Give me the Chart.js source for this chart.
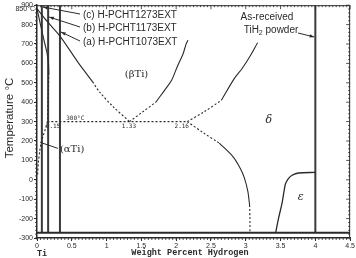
<!DOCTYPE html>
<html>
<head>
<meta charset="utf-8">
<script src="https://cdn.jsdelivr.net/npm/chart.js@4.4.1/dist/chart.umd.min.js"></script>
<style>
html, body { margin: 0; padding: 0; background: #fff; }
</style>
</head>
<body>
<canvas id="c" width="356" height="258"></canvas>
<script>
// axis ticks
const xTicks = [0, 0.5, 1, 1.5, 2, 2.5, 3, 3.5, 4, 4.5];
const xTickLabels = ['0', '0.5', '1', '1.5', '2', '2.5', '3', '3.5', '4', '4.5'];
const yTicks = [900, 800, 700, 600, 500, 400, 300, 200, 100, 0, -100, -200, -300];

// phase boundaries (wt% H, deg C)
const alphaBetaSolid = [[0, 882], [0.05, 800], [0.1, 720], [0.143, 655], [0.165, 600], [0.17, 550]];
const alphaBetaDash = [[0.17, 550], [0.165, 480], [0.158, 400], [0.15, 300]];
const alphaSolvus = [[0.15, 300], [0.12, 262], [0.09, 228], [0.06, 192], [0.04, 150], [0.02, 90], [0.008, 20]];
const betaTransusSolid = [[0, 882], [0.15, 815], [0.33, 741], [0.6, 600], [0.8, 505]];
const betaTransusDash = [[0.8, 505], [0.9, 452], [1.1, 375], [1.33, 300]];
const betaDeltaDash = [[1.33, 300], [1.5, 345], [1.71, 401]];
const betaDeltaSolid = [[1.71, 401], [1.83, 460], [1.93, 510], [2.02, 587], [2.1, 650], [2.14, 697], [2.17, 720]];
const deltaUpperDash = [[2.16, 300], [2.4, 350], [2.65, 410]];
const deltaUpperSolid = [[2.65, 410], [2.83, 519], [2.95, 575], [3.05, 630], [3.17, 706]];
const deltaLowerDash = [[2.16, 300], [2.4, 240], [2.62, 189]];
const deltaLowerSolid = [[2.62, 189], [2.81, 122], [2.92, 60], [2.98, 10], [3.03, -60], [3.055, -130]];
const deltaLowerDash2 = [[3.055, -130], [3.06, -200], [3.06, -273]];
const epsilonBoundary = [[3.43, -273], [3.47, -200], [3.52, -123], [3.55, -60], [3.57, -22], [3.61, 5], [3.66, 22], [3.76, 35], [4.0, 38]];
const eutectoid = [[0.15, 300], [2.16, 300]];
const absZero = [[0, -273], [4.5, -273]];

// sample compositions: (c), (b), (a) and as-received powder
const sampleNames = ['(c) H-PCHT1273EXT', '(b) H-PCHT1173EXT', '(a) H-PCHT1073EXT'];
const sampleX = [0.07, 0.16, 0.33];
const powderX = 4.0;

const ink = '#2a2a2a';

function pts(arr) {
    return arr.map(p => ({ x: p[0], y: p[1] }));
}

function line(arr, dashed, width) {
    return {
        data: pts(arr),
        showLine: true,
        pointRadius: 0,
        borderColor: ink,
        borderWidth: width || 1.1,
        borderDash: dashed ? [2, 2] : [],
        tension: 0.3,
        fill: false
    };
}

const datasets = [
    line(alphaBetaSolid, false),
    line(alphaBetaDash, true),
    line(alphaSolvus, true),
    line(betaTransusSolid, false),
    line(betaTransusDash, true),
    line(betaDeltaDash, true),
    line(betaDeltaSolid, false),
    line(deltaUpperDash, true),
    line(deltaUpperSolid, false),
    line(deltaLowerDash, true),
    line(deltaLowerSolid, false),
    line(deltaLowerDash2, true),
    line(epsilonBoundary, false, 1.3),
    line(eutectoid, true),
    line(absZero, false, 2)
];
sampleX.concat([powderX]).forEach(x => {
    const ds = line([[x, -273], [x, 900]], false, 2);
    ds.tension = 0;
    ds.borderColor = '#3a3a3a';
    datasets.push(ds);
});

function arrow(ctx, x1, y1, x2, y2) {
    ctx.beginPath();
    ctx.moveTo(x1, y1);
    ctx.lineTo(x2, y2);
    ctx.stroke();
    const a = Math.atan2(y2 - y1, x2 - x1);
    ctx.beginPath();
    ctx.moveTo(x2, y2);
    ctx.lineTo(x2 - 5 * Math.cos(a - 0.35), y2 - 5 * Math.sin(a - 0.35));
    ctx.lineTo(x2 - 5 * Math.cos(a + 0.35), y2 - 5 * Math.sin(a + 0.35));
    ctx.closePath();
    ctx.fill();
}

const decor = {
    id: 'decor',
    afterDraw(chart) {
        const ctx = chart.ctx;
        const xs = chart.scales.x, ys = chart.scales.y;
        const a = chart.chartArea;
        const X = v => xs.getPixelForValue(v);
        const Y = v => ys.getPixelForValue(v);
        ctx.save();
        ctx.strokeStyle = ink;
        ctx.fillStyle = ink;

        // frame top / right
        ctx.lineWidth = 1;
        ctx.beginPath();
        ctx.moveTo(a.left, a.top + 0.5);
        ctx.lineTo(a.right - 0.5, a.top + 0.5);
        ctx.lineTo(a.right - 0.5, a.bottom);
        ctx.stroke();

        // minor ticks
        ctx.lineWidth = 0.8;
        ctx.beginPath();
        for (let i = 0; i <= 90; i++) {
            const px = X(i * 0.05);
            const len = i % 10 === 0 ? 4 : 2;
            ctx.moveTo(px, a.top); ctx.lineTo(px, a.top + len);
            ctx.moveTo(px, a.bottom); ctx.lineTo(px, a.bottom + 2);
        }
        for (let v = -300; v <= 900; v += 20) {
            const py = Y(v);
            const len = v % 100 === 0 ? 4 : 2;
            ctx.moveTo(a.right, py); ctx.lineTo(a.right - len, py);
            ctx.moveTo(a.left, py); ctx.lineTo(a.left - 2, py);
        }
        ctx.stroke();

        // sample annotations
        const big = '10px "Liberation Sans", Arial, sans-serif';
        ctx.font = big;
        ctx.textBaseline = 'middle';
        ctx.textAlign = 'left';
        const rowY = [15, 28, 42];
        const tipY = [7, 17, 32];
        ctx.lineWidth = 1;
        sampleNames.forEach((name, i) => {
            ctx.fillText(name, 83, rowY[i]);
            arrow(ctx, 80, rowY[i] - 1, X(sampleX[i]) + 1, tipY[i]);
        });

        ctx.textAlign = 'center';
        ctx.fillText('As-received', 267, 17);
        // "TiH2 powder" laid out piece by piece, centred on 271
        const sub = '7px "Liberation Sans", Arial, sans-serif';
        const w1 = ctx.measureText('TiH').width;
        const w3 = ctx.measureText(' powder').width;
        ctx.font = sub;
        const w2 = ctx.measureText('2').width;
        let x0 = 271 - (w1 + w2 + w3) / 2;
        ctx.textAlign = 'left';
        ctx.font = big;
        ctx.fillText('TiH', x0, 30);
        ctx.font = sub;
        ctx.fillText('2', x0 + w1, 33);
        ctx.font = big;
        ctx.fillText(' powder', x0 + w1 + w2, 30);
        arrow(ctx, 298, 33, X(powderX) - 1, 37);

        // phase labels
        ctx.textAlign = 'center';
        ctx.font = '10px "DejaVu Serif", serif';
        ctx.fillText('(βTi)', X(1.43), Y(543));
        ctx.font = 'italic 11px "DejaVu Serif", serif';
        ctx.fillText('δ', X(3.33), Y(310));
        ctx.fillText('ε', X(3.79), Y(-90));
        ctx.font = '10px "DejaVu Serif", serif';
        ctx.textAlign = 'left';
        ctx.fillText('(αTi)', X(0.33), Y(157));
        ctx.beginPath();
        ctx.moveTo(X(0.047), Y(193));
        ctx.lineTo(X(0.30), Y(162));
        ctx.stroke();

        // small values
        ctx.font = '6px "DejaVu Sans Mono", monospace';
        ctx.textAlign = 'center';
        ctx.fillText('300°C', X(0.55), Y(318));
        ctx.fillText('0.15', X(0.23), Y(276));
        ctx.fillText('1.33', X(1.32), Y(276));
        ctx.fillText('2.16', X(2.08), Y(276));
        ctx.textAlign = 'right';
        ctx.font = '7px "Liberation Sans", Arial, sans-serif';
        ctx.fillText('850°C', 35, 9);

        // axis titles
        ctx.textAlign = 'center';
        ctx.font = 'bold 8.5px "Liberation Mono", "Courier New", monospace';
        ctx.fillText('Weight Percent Hydrogen', 190, 253);
        ctx.fillText('Ti', 42, 254);
        ctx.save();
        ctx.translate(10, 118);
        ctx.rotate(-Math.PI / 2);
        ctx.font = '11.5px "Liberation Sans", Arial, sans-serif';
        ctx.fillText('Temperature °C', 0, 0);
        ctx.restore();

        ctx.restore();
    }
};

new Chart(document.getElementById('c'), {
    type: 'scatter',
    data: { datasets: datasets },
    options: {
        responsive: false,
        animation: false,
        layout: { padding: { top: 2, right: 4, left: 0, bottom: 0 } },
        plugins: { legend: { display: false }, tooltip: { enabled: false } },
        scales: {
            x: {
                type: 'linear',
                min: 0,
                max: 4.5,
                afterBuildTicks: s => { s.ticks = xTicks.map(v => ({ value: v })); },
                afterFit: s => { s.height = 20; },
                ticks: {
                    callback: v => xTickLabels[xTicks.indexOf(v)],
                    font: { size: 7, family: '"Liberation Sans", Arial, sans-serif' },
                    color: ink,
                    padding: 1,
                    maxRotation: 0
                },
                grid: { drawOnChartArea: false, drawTicks: true, tickLength: 3, color: ink },
                border: { color: ink, width: 1.5 }
            },
            y: {
                type: 'linear',
                min: -300,
                max: 900,
                afterBuildTicks: s => { s.ticks = yTicks.map(v => ({ value: v })); },
                afterFit: s => { s.width = 37; },
                ticks: {
                    font: { size: 7, family: '"Liberation Sans", Arial, sans-serif' },
                    color: ink,
                    padding: 1
                },
                grid: { drawOnChartArea: false, drawTicks: true, tickLength: 3, color: ink },
                border: { color: ink, width: 1.5 }
            }
        }
    },
    plugins: [decor]
});
</script>
</body>
</html>
